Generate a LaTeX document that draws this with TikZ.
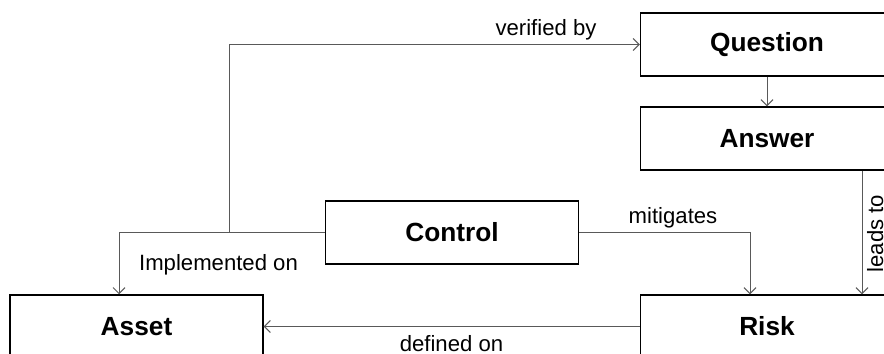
\documentclass[tikz,border=0pt]{standalone}
\usepackage{fontspec}
\setmainfont{Liberation Sans}
\usetikzlibrary{arrows.meta}
\begin{document}
\begin{tikzpicture}[x=0.75pt,y=-0.75pt,
  entity/.style={draw=black,line width=1.1pt,minimum width=189.75pt,minimum height=47.25pt,
    inner sep=0pt,font=\fontsize{19.7}{22}\selectfont\bfseries},
  conn/.style={draw=black!65,line width=0.75pt,-{Straight Barb[length=4.5pt,width=9pt]}},
  lbl/.style={inner sep=0pt,font=\fontsize{16.6}{19}\selectfont}]
  \useasboundingbox (0,0) rectangle (884,353);
  \clip (0,0) rectangle (884,353);
  % entities
  \node[entity] (question) at (767,44.5) {Question};
  \node[entity] (answer) at (767,138.5) {Answer};
  \node[entity] (control) at (452,232.5) {Control};
  \node[entity] (asset) at (136.5,326.5) {Asset};
  \node[entity] (risk) at (767,326.5) {Risk};
  % relations
  \draw[conn] (question) -- (answer);
  \draw[conn] ([xshift=71.25pt]answer.south) -- ([xshift=71.25pt]risk.north);
  \draw[conn] (control.east) -| ([xshift=-12.75pt]risk.north);
  \draw[conn] (control.west) -| ([xshift=-13.1pt]asset.north);
  \draw[conn] (control.west) -- ++(-95,0) |- (question.west);
  \draw[conn] (risk.west) -- (asset.east);
  % labels
  \node[lbl] (lverified) at (546,29.5) {verified by};
  \node[lbl] (lmitigates) at (673,217.5) {mitigates};
  \node[lbl] (limpl) at (218.5,265) {Implemented on};
  \node[lbl,anchor=base] (ldefined) at (451.5,351) {defined on};
  \node[lbl,anchor=base,rotate=90] (lleads) at (883,233.5) {leads to};
\end{tikzpicture}
\end{document}
